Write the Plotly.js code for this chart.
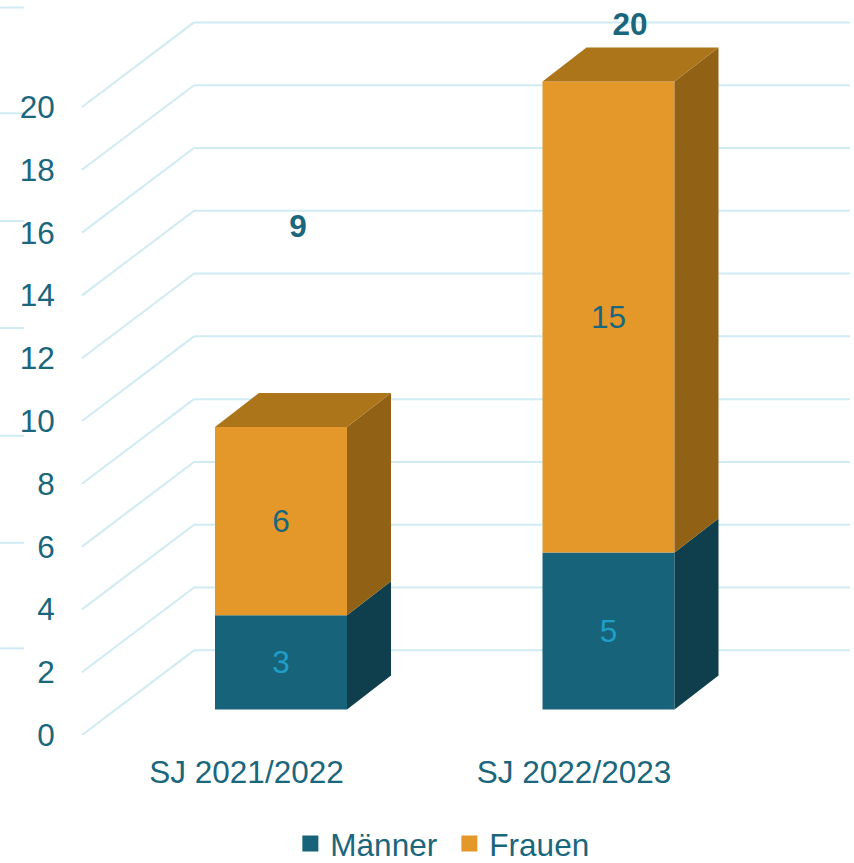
<!DOCTYPE html>
<html>
<head>
<meta charset="utf-8">
<script src="https://cdn.plot.ly/plotly-3.0.1.min.js"></script>
<style>html,body{margin:0;padding:0;background:#fff;overflow:hidden;width:854px;height:863px}#chart{width:854px;height:863px;overflow:hidden}</style>
</head>
<body>
<div id="chart"></div>
<script>
// Data
const categories = ["SJ 2021/2022", "SJ 2022/2023"];
const maenner = [3, 5];
const frauen = [6, 15];
const totals = [9, 20];
const seriesNames = ["Männer", "Frauen"];
const yTicks = [0, 2, 4, 6, 8, 10, 12, 14, 16, 18, 20];
const totalLabelLevels = [16.1, 22.55];
const stubLevels = [23.17, 19.8, 16.37, 12.96, 9.53, 6.12, 2.76];

// Styles and geometry (x axis runs in page pixels, y axis in chart units)
const TEAL = "#17647A", ORANGE = "#E49829";
const TEAL_SIDE = "#0F3F4D", ORANGE_SIDE = "#916115", ORANGE_TOP = "#AD7519";
const GRID = "#CFEBF4", TEXT = "#1A667C", LABEL_LIGHT = "#1F9EC8";
const FONT = "Liberation Sans, Arial, sans-serif", FS = 31.5;
const H = 900, Y0 = 735.5, UNIT = 31.42;
const tickX = [246.5, 574];
const BAR_SHIFT = 34.5, BAR_W = 132;
const barX = tickX.map(x => x + BAR_SHIFT);
const BAR_BASE = (Y0 - 710) / UNIT;
const DX = 44, DY = 34 / UNIT;
const WALL_DX = 112, WALL_DY = 84.7 / UNIT;
const GRID_X0 = 82, GRID_X1 = 850;
const totalLabelX = [298, 630];

const line = {color: GRID, width: 2};
const shapes = [];
yTicks.forEach(v => {
  shapes.push({type: "line", layer: "below", xref: "x", yref: "y", x0: GRID_X0, y0: v, x1: GRID_X0 + WALL_DX, y1: v + WALL_DY, line});
  shapes.push({type: "line", layer: "below", xref: "x", yref: "y", x0: GRID_X0 + WALL_DX, y0: v + WALL_DY, x1: GRID_X1, y1: v + WALL_DY, line});
});
stubLevels.forEach(v => {
  shapes.push({type: "line", layer: "below", xref: "x", yref: "y", x0: 0, y0: v, x1: 24, y1: v, line});
});

function face(xs, ys, color) {
  return {type: "scatter", mode: "lines", x: xs, y: ys, fill: "toself", fillcolor: color,
    line: {width: 0, color: color}, hoverinfo: "skip", showlegend: false};
}

const traces = [];
traces.push({type: "bar", x: barX, y: maenner, base: barX.map(() => BAR_BASE), width: BAR_W,
  marker: {color: TEAL, line: {width: 0}}, text: maenner.map(String), textposition: "inside",
  insidetextanchor: "middle", textangle: 0, insidetextfont: {family: FONT, size: FS, color: LABEL_LIGHT},
  name: seriesNames[0], showlegend: false});
traces.push({type: "bar", x: barX, y: frauen, base: maenner.map(m => BAR_BASE + m), width: BAR_W,
  marker: {color: ORANGE, line: {width: 0}}, text: frauen.map(String), textposition: "inside",
  insidetextanchor: "middle", textangle: 0, insidetextfont: {family: FONT, size: FS, color: TEXT},
  name: seriesNames[1], showlegend: false});

barX.forEach((cx, i) => {
  const r = cx + BAR_W / 2, l = cx - BAR_W / 2;
  const y1 = BAR_BASE, y2 = y1 + maenner[i], y3 = y2 + frauen[i];
  traces.push(face([r, r + DX, r + DX, r, r], [y1, y1 + DY, y2 + DY, y2, y1], TEAL_SIDE));
  traces.push(face([r, r + DX, r + DX, r, r], [y2, y2 + DY, y3 + DY, y3, y2], ORANGE_SIDE));
  traces.push(face([l, r, r + DX, l + DX, l], [y3, y3, y3 + DY, y3 + DY, y3], ORANGE_TOP));
});

traces.push({type: "scatter", mode: "text", x: totalLabelX, y: totalLabelLevels, text: totals.map(String),
  textposition: "middle center", textfont: {family: FONT, size: FS, color: TEXT, weight: 700},
  cliponaxis: false, hoverinfo: "skip", showlegend: false});

// legend entries
[[TEAL, 0], [ORANGE, 1]].forEach(([c, i]) => {
  traces.push({type: "scatter", mode: "markers", x: [null], y: [null], name: seriesNames[i],
    marker: {symbol: "square", size: 17, color: c}});
});

const layout = {
  width: 854, height: H,
  margin: {l: 0, r: 0, t: 0, b: H - Y0, pad: 0},
  paper_bgcolor: "#fff", plot_bgcolor: "rgba(0,0,0,0)",
  barmode: "overlay",
  font: {family: FONT, size: FS, color: TEXT},
  xaxis: {range: [0, 854], tickmode: "array", tickvals: tickX, ticktext: categories, showgrid: false,
    zeroline: false, showline: false, ticks: "outside", ticklen: 9, tickcolor: "rgba(0,0,0,0)",
    tickfont: {family: FONT, size: FS, color: TEXT}, fixedrange: true},
  yaxis: {range: [0, Y0 / UNIT], tickmode: "array", tickvals: yTicks, showgrid: false, zeroline: false,
    showline: false, anchor: "free", position: 75 / 854, ticks: "outside", ticklen: 14,
    tickcolor: "rgba(0,0,0,0)", tickfont: {family: FONT, size: FS, color: TEXT}, fixedrange: true},
  shapes,
  legend: {orientation: "h", x: 0.34, xanchor: "left", y: -(844 - Y0) / Y0, yanchor: "middle",
    entrywidth: 114, entrywidthmode: "pixels",
    font: {family: FONT, size: FS, color: TEXT}, bgcolor: "rgba(0,0,0,0)"},
  showlegend: true
};

Plotly.newPlot("chart", traces, layout, {displayModeBar: false, staticPlot: true});
</script>
</body>
</html>
